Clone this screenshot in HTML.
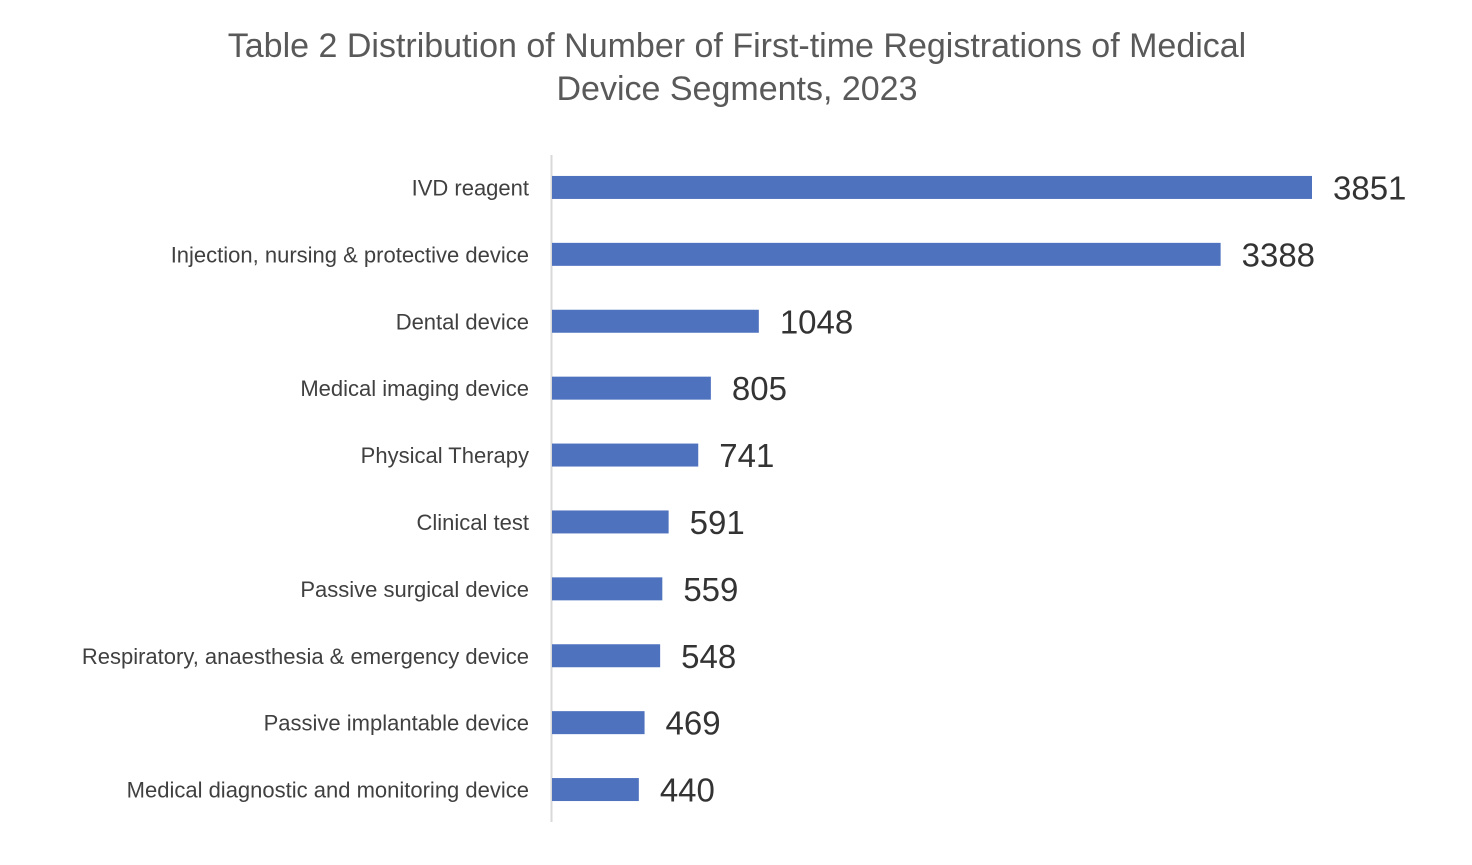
<!DOCTYPE html>
<html><head><meta charset="utf-8"><style>
html,body{margin:0;padding:0;background:#fff;}
body{width:1472px;height:860px;overflow:hidden;font-family:"Liberation Sans",Arial,sans-serif;}
</style></head><body>
<svg id="chart" width="1472" height="860" xmlns="http://www.w3.org/2000/svg">
<text x="737" y="57" text-anchor="middle" font-size="34" fill="#595959" font-family="Liberation Sans, Arial, sans-serif">Table 2 Distribution of Number of First-time Registrations of Medical</text>
<text x="737" y="100" text-anchor="middle" font-size="34" fill="#595959" font-family="Liberation Sans, Arial, sans-serif">Device Segments, 2023</text>
<line x1="551.5" y1="155" x2="551.5" y2="822" stroke="#d9d9d9" stroke-width="2"/>
<g id="bars"></g>
</svg>
<script>
const categories = ["IVD reagent","Injection, nursing & protective device","Dental device","Medical imaging device","Physical Therapy","Clinical test","Passive surgical device","Respiratory, anaesthesia & emergency device","Passive implantable device","Medical diagnostic and monitoring device"];
const values = [3851,3388,1048,805,741,591,559,548,469,440];
const valueLabels = ["3851","3388","1048","805","741","591","559","548","469","440"];

const x0 = 552, pxPerUnit = (1312 - 552) / 3851;
const xScale = v => x0 + v * pxPerUnit;
const yTop = 154, band = 66.9, barH = 23;
const yScale = i => yTop + band * (i + 0.5);
const NS = "http://www.w3.org/2000/svg";
const g = document.getElementById("bars");
categories.forEach((c, i) => {
  const cy = yScale(i);
  const r = document.createElementNS(NS, "rect");
  
  
  r.setAttribute("x", x0);
  r.setAttribute("y", cy - barH / 2);
  r.setAttribute("width", xScale(values[i]) - x0);
  r.setAttribute("height", barH);
  r.setAttribute("fill", "#4f72bf");
  g.appendChild(r);
  const t = document.createElementNS(NS, "text");
  
  
  t.setAttribute("x", 529);
  t.setAttribute("y", cy + 8);
  t.setAttribute("text-anchor", "end");
  t.setAttribute("font-size", "22");
  t.setAttribute("fill", "#404040");
  t.textContent = c;
  g.appendChild(t);
  const v = document.createElementNS(NS, "text");
  
  
  v.setAttribute("x", xScale(values[i]) + 21);
  v.setAttribute("y", cy + 12);
  v.setAttribute("font-size", "33");
  v.setAttribute("fill", "#333333");
  v.textContent = valueLabels[i];
  g.appendChild(v);
});
</script>
</body></html>
